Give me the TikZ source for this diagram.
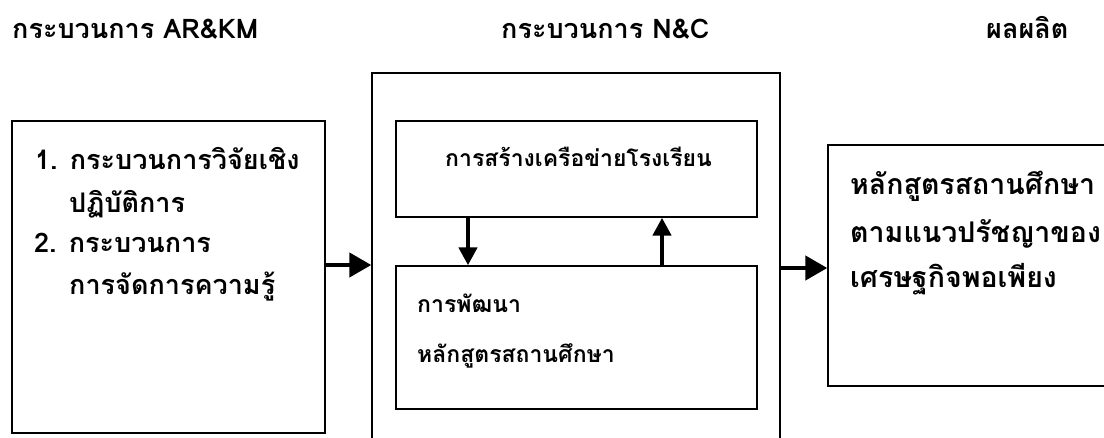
\documentclass[tikz,border=0pt]{standalone}
\usepackage{fontspec}
\newfontfamily\thai[Script=Thai]{Loma}
\usetikzlibrary{arrows.meta}
\tikzset{
  box/.style={draw, line width=1.4pt, inner sep=0pt},
  arr/.style={line width=4.5pt, -{Triangle[length=22pt,width=24pt]}},
  varr/.style={line width=4.5pt, -{Triangle[length=18pt,width=18pt]}},
  txt/.style={anchor=base west, inner sep=0pt, font=\thai\bfseries\fontsize{27}{32}\selectfont},
  rtxt/.style={anchor=base west, inner sep=0pt, font=\thai\bfseries\fontsize{28.5}{32}\selectfont},
  stxt/.style={anchor=base west, inner sep=0pt, font=\thai\bfseries\fontsize{23}{28}\selectfont},
}
\begin{document}
\begin{tikzpicture}[x=1pt,y=-1pt]
\useasboundingbox (0,0) rectangle (1104,437);
\clip (0,0) rectangle (1104,437);
% headers
\node[txt] (h1) at (12,38) {กระบวนการ AR\&KM};
\node[txt] (h2) at (501,38) {กระบวนการ N\&C};
\node[txt] (h3) at (986,38) {ผลผลิต};
% boxes
\node[box, minimum width=313pt, minimum height=312pt] (left) at (168.5,277) {};
\node[box, minimum width=408pt, minimum height=427pt] (mid) at (576,286.5) {};
\node[box, minimum width=361pt, minimum height=96pt] (net) at (576.5,169) {};
\node[box, minimum width=361pt, minimum height=143pt] (dev) at (576.5,337.5) {};
\node[box, minimum width=282pt, minimum height=241pt] (out) at (969,265.5) {};
% left text
\node[txt] (l1) at (35,169) {1. กระบวนการวิจัยเชิง};
\node[txt] (l2) at (69,212) {ปฏิบัติการ};
\node[txt] (l3) at (34,252) {2. กระบวนการ};
\node[txt] (l4) at (69,294) {การจัดการความรู้};
% inner text
\node[stxt] (n1) at (445,166) {การสร้างเครือข่ายโรงเรียน};
\node[stxt] (d1) at (417,312) {การพัฒนา};
\node[stxt] (d2) at (417,362) {หลักสูตรสถานศึกษา};
% right text
\node[rtxt] (o1) at (850,194) {หลักสูตรสถานศึกษา};
\node[rtxt] (o2) at (850,242) {ตามแนวปรัชญาของ};
\node[rtxt] (o3) at (850,287) {เศรษฐกิจพอเพียง};
% arrows
\draw[arr] (left.east|-0,265) -- (mid.west|-0,265);
\draw[arr] (mid.east|-0,268) -- (out.west|-0,268);
\draw[varr] (net.south-|468,0) -- (dev.north-|468,0);
\draw[varr] (dev.north-|662,0) -- (net.south-|662,0);
\end{tikzpicture}
\end{document}
